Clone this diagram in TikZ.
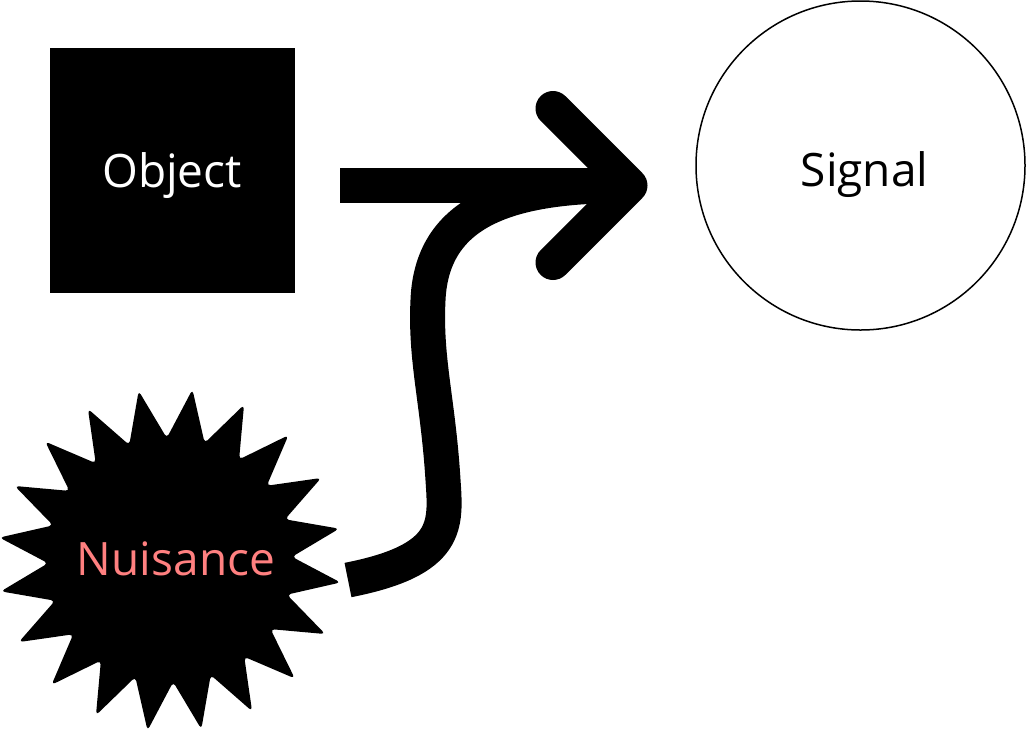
\documentclass[tikz,border=0pt]{standalone}
\usepackage{fontspec}
\setmainfont{Open Sans}
\usetikzlibrary{shapes.geometric,calc}
\definecolor{salmon}{RGB}{255,128,128}
\begin{document}
\begin{tikzpicture}[x=1pt,y=-1pt,
  lbl/.style={font=\fontsize{46}{54}\selectfont},
  objbox/.style={rectangle, fill=black, draw=black, line width=1pt, minimum size=244pt, inner sep=0pt, text=white, lbl, text height=40pt, text depth=6pt},
  sigcirc/.style={circle, draw=black, line width=1.5pt, fill=white, minimum size=329pt, inner sep=0pt, lbl, text height=47pt, text depth=6pt},
  burst/.style={star, star points=20, star point height=50pt, shape border rotate=-7.5, minimum size=344pt, inner sep=0pt, fill=black, rounded corners=4pt},
  burstlbl/.style={lbl, text=salmon, inner sep=0pt, text height=36pt, text depth=6pt, xshift=6pt},
  fat/.style={line width=35pt, draw=black},
  barb/.style={fat, line cap=round, line join=round}]
\useasboundingbox (0,0) rectangle (1027,732);
\node[objbox] (obj) at (172,170) {Object};
\node[sigcirc] (sig) at (860.5,165.5) {\hspace*{8pt}Signal};
\node[burst, label={[burstlbl]center:Nuisance}] (nuis) at (170,560) {};
\coordinate (a0) at (340,185.5);
\coordinate (tip) at (630,185.5);
\coordinate (n0) at (348,580);
\draw[fat] (a0) -- (tip);
\draw[fat] (n0) .. controls (450,560) and (446,525) .. (443,480)
  .. controls (438,400) and (425,360) .. (428,300)
  .. controls (432,205) and (520,185) .. (tip);
\draw[barb] ($(tip)+(-77,-77)$) -- (tip) -- ($(tip)+(-77,77)$);
\end{tikzpicture}
\end{document}
